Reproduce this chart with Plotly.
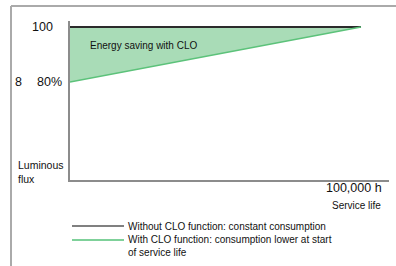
import plotly.graph_objects as go

# ---- data ----
service_hours = [0, 100000]
flux_without_clo = [100, 100]
flux_with_clo = [80, 100]
y_tick_labels = ["100", "80%"]
y_tick_values = [100, 80]
series_names = ["Without CLO function: constant consumption",
                "With CLO function: consumption lower at start<br>of service life"]

W, H = 396, 266
FONT = "Liberation Sans, Arial, sans-serif"

def px(x):
    return x / W

def py(y):
    return 1 - y / H

fig = go.Figure()
fig.add_trace(go.Scatter(x=service_hours, y=flux_without_clo, mode="lines",
                         line=dict(color="#2b2b2b", width=2), showlegend=False,
                         hoverinfo="skip"))
fig.add_trace(go.Scatter(x=service_hours, y=flux_with_clo, mode="lines",
                         line=dict(color="#5cc27a", width=1.6), fill="tonexty",
                         fillcolor="#a9dcb7", showlegend=False, hoverinfo="skip"))

annotations = [
    dict(text="Energy saving with CLO", x=px(88), y=py(46), xanchor="left", yanchor="middle",
         font=dict(size=10, color="#111")),
    dict(text=y_tick_labels[0], xref="paper", yref="y", x=px(42), y=y_tick_values[0],
         xanchor="center", yanchor="middle", font=dict(size=12.5, color="#111")),
    dict(text=y_tick_labels[1], xref="paper", yref="y", x=px(49), y=y_tick_values[1],
         xanchor="center", yanchor="middle", font=dict(size=12.5, color="#111")),
    dict(text="8", xref="paper", yref="y", x=px(18.5), y=y_tick_values[1],
         xanchor="center", yanchor="middle", font=dict(size=12.5, color="#111")),
    dict(text="Luminous<br>flux", x=px(16), y=py(172), xanchor="left", yanchor="middle",
         align="left", font=dict(size=10.5, color="#111")),
    dict(text="100,000 h", x=px(384), y=py(188), xanchor="right", yanchor="middle",
         font=dict(size=12.5, color="#111")),
    dict(text="Service life", x=px(383), y=py(205), xanchor="right", yanchor="middle",
         font=dict(size=10, color="#111")),
    dict(text=series_names[0], x=px(126), y=py(226), xanchor="left", yanchor="middle",
         font=dict(size=10, color="#111")),
    dict(text=series_names[1], x=px(126), y=py(246), xanchor="left", yanchor="middle",
         align="left", font=dict(size=10, color="#111")),
]
for a in annotations:
    a.setdefault("xref", "paper")
    a.setdefault("yref", "paper")
    a["showarrow"] = False
    a.setdefault("font", {})
    a["font"]["family"] = FONT

shapes = [
    # outer frame (top and left)
    dict(type="line", xref="paper", yref="paper", x0=px(11), x1=px(396), y0=py(6), y1=py(6),
         line=dict(color="#aaaaaa", width=2)),
    dict(type="line", xref="paper", yref="paper", x0=px(11), x1=px(11), y0=py(6), y1=py(266),
         line=dict(color="#aaaaaa", width=2)),
    # legend samples
    dict(type="line", xref="paper", yref="paper", x0=px(72), x1=px(124), y0=py(226), y1=py(226),
         line=dict(color="#808080", width=1.8)),
    dict(type="line", xref="paper", yref="paper", x0=px(72), x1=px(124), y0=py(240), y1=py(240),
         line=dict(color="#7fd19a", width=1.8)),
]

# axes: x=0 at px 70, x=100000 at px 361, axis ends at px 389
x_end = 100000 * (389 - 70) / (361 - 70)
# y: 100 at px 27, 80 at px 82
ppu = (82 - 27) / 20.0
y_top = 100 + (27 - 21) / ppu
y_bot = 100 - (180 - 27) / ppu

fig.update_layout(
    width=W, height=H,
    margin=dict(l=0, r=0, t=0, b=0),
    paper_bgcolor="white", plot_bgcolor="white",
    xaxis=dict(domain=[px(70), px(389)], range=[0, x_end], showgrid=False, zeroline=False,
               showticklabels=False, ticks="", showline=True, linecolor="#8c8c8c", linewidth=2,
               fixedrange=True),
    yaxis=dict(domain=[py(180), py(21)], range=[y_bot, y_top], showgrid=False, zeroline=False,
               showticklabels=False, ticks="", showline=True, linecolor="#8c8c8c", linewidth=2,
               fixedrange=True),
    annotations=annotations,
    shapes=shapes,
    showlegend=False,
)

fig.write_html("out.html", config={"displayModeBar": False},
               post_script="document.body.style.margin='0';document.body.style.overflow='hidden';")
